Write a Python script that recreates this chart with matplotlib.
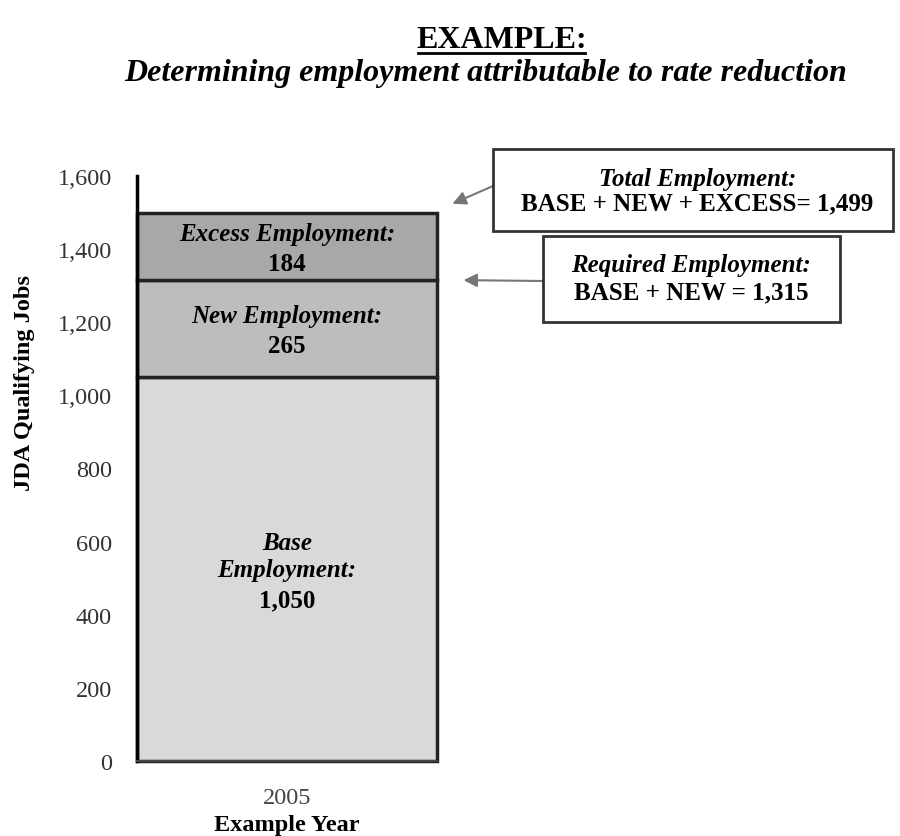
import matplotlib.pyplot as plt
from matplotlib.ticker import FuncFormatter

years = ["2005"]
segments = ["Base\nEmployment:", "New Employment:", "Excess Employment:"]
values = [1050, 265, 184]
colors = ["#d9d9d9", "#bdbdbd", "#a8a8a8"]

plt.rcParams['font.family'] = ['Liberation Serif', 'DejaVu Serif']

fig = plt.figure(figsize=(9, 8.37), dpi=100)
ax = fig.add_axes([0.152, 0.0896, 0.334, 0.699])

# stacked bar, one segment at a time
bottom = 0
tops = []
for name, v, c in zip(segments, values, colors):
    bars = ax.bar(years, [v], bottom=bottom, width=1.0, color=c, edgecolor='#222222',
                  linewidth=2.5)
    for b in bars:
        b.set_clip_on(False)
    mid = bottom + v / 2
    if "\n" in name:
        ax.text(0, mid + 36, name, ha='center', va='center', fontsize=18,
                fontweight='bold', style='italic', linespacing=1.25)
        ax.text(0, mid - 83, f"{v:,}", ha='center', va='center', fontsize=18, fontweight='bold')
    else:
        ax.text(0, mid + 35, name, ha='center', va='center', fontsize=18,
                fontweight='bold', style='italic')
        ax.text(0, mid - 46, f"{v:,}", ha='center', va='center', fontsize=18, fontweight='bold')
    bottom += v
    tops.append(bottom)

ax.set_xlim(-0.5, 0.5)
ax.set_ylim(0, 1600)
ax.set_yticks(range(0, 1601, 200))
ax.yaxis.set_major_formatter(FuncFormatter(lambda x, p: f"{int(x):,}"))
ax.tick_params(axis='both', length=0, labelsize=17.5)
ax.tick_params(axis='y', pad=18, labelcolor='#333333')
ax.tick_params(axis='x', pad=19, labelcolor='#444444')
for s in ['top', 'right']:
    ax.spines[s].set_visible(False)
ax.spines['left'].set_linewidth(2.5)
ax.spines['bottom'].set_linewidth(1.5)
ax.spines['bottom'].set_color('#444444')
ax.set_facecolor('none')
ax.set_ylabel("JDA Qualifying Jobs", fontsize=17.5, fontweight='bold')
ax.yaxis.set_label_coords(-0.34, 0.648)
ax.set_xlabel("Example Year", fontsize=17.5, fontweight='bold', labelpad=4)

arrow = dict(arrowstyle='-|>', color='#777777', lw=1.5, mutation_scale=20, shrinkA=0, shrinkB=0)

# total employment callout
ax.annotate("", xy=(1.05, tops[2] + 25), xycoords=('axes fraction', 'data'),
            xytext=(493, 650), textcoords='figure pixels', arrowprops=arrow,
            annotation_clip=False)
fig.patches.append(plt.Rectangle((0.548, 0.723), 0.444, 0.098, transform=fig.transFigure,
                                 fc='white', ec='#333333', lw=2))
fig.text(0.775, 0.785, "Total Employment:", ha='center', va='center', fontsize=18,
         fontweight='bold', style='italic')
fig.text(0.775, 0.756, f"BASE + NEW + EXCESS= {tops[2]:,}", ha='center', va='center',
         fontsize=18, fontweight='bold')

# required employment callout
ax.annotate("", xy=(1.087, tops[1]), xycoords=('axes fraction', 'data'),
            xytext=(543, 555), textcoords='figure pixels', arrowprops=arrow,
            annotation_clip=False)
fig.patches.append(plt.Rectangle((0.603, 0.614), 0.330, 0.103, transform=fig.transFigure,
                                 fc='white', ec='#333333', lw=2))
fig.text(0.768, 0.683, "Required Employment:", ha='center', va='center', fontsize=18,
         fontweight='bold', style='italic')
fig.text(0.768, 0.650, f"BASE + NEW = {tops[1]:,}", ha='center', va='center', fontsize=18,
         fontweight='bold')

fig.text(0.557, 0.952, "EXAMPLE:", ha='center', va='center', fontsize=23, fontweight='bold')
fig.add_artist(plt.Line2D([0.464, 0.650], [0.936, 0.936], color='black', lw=2))
fig.text(0.54, 0.912, "Determining employment attributable to rate reduction", ha='center',
         va='center', fontsize=23, fontweight='bold', style='italic')

fig.savefig("out.png", dpi=100)
